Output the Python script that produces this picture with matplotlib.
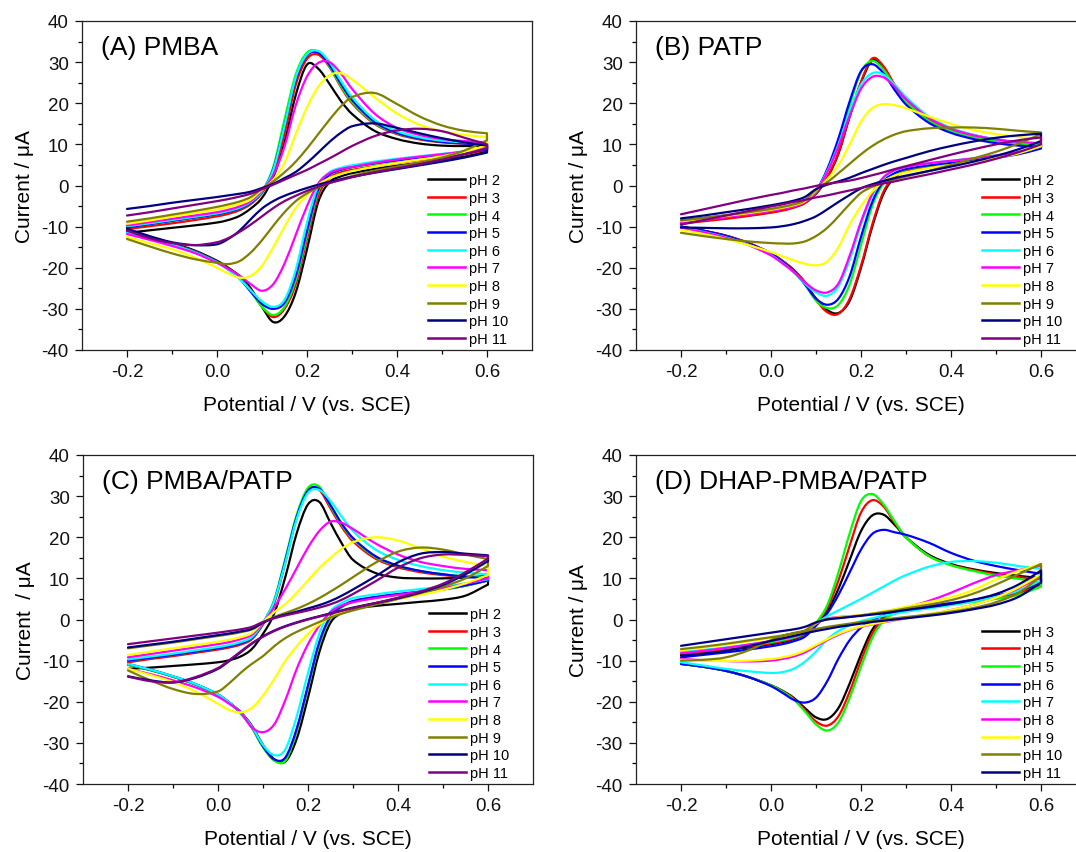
import numpy as np
import matplotlib
matplotlib.use("Agg")
import matplotlib.pyplot as plt
from matplotlib.path import Path
from matplotlib.patches import PathPatch
from matplotlib.lines import Line2D
from matplotlib.ticker import FixedLocator, FormatStrFormatter

plt.rcParams["font.family"] = ["Liberation Sans", "DejaVu Sans"]
plt.rcParams["axes.unicode_minus"] = False

# Potential grid (V vs. SCE) shared by every sweep
potential = [-0.2, -0.15, -0.1, -0.05, 0.0, 0.025, 0.05, 0.075, 0.1, 0.125, 0.15,
             0.175, 0.2, 0.225, 0.25, 0.275, 0.3, 0.35, 0.4, 0.45, 0.5, 0.55, 0.6]

labels_2_11 = ["pH 2", "pH 3", "pH 4", "pH 5", "pH 6", "pH 7", "pH 8", "pH 9", "pH 10", "pH 11"]
labels_3_11 = ["pH 3", "pH 4", "pH 5", "pH 6", "pH 7", "pH 8", "pH 9", "pH 10", "pH 11"]
colors_10 = ["#000000", "#ff0000", "#00ff00", "#0000ff", "#00ffff", "#ff00ff",
             "#ffff00", "#808000", "#000080", "#800080"]
colors_9 = colors_10[:9]

# ---------------- (A) PMBA: current (uA), forward (anodic) sweep ----------------
pmba_fwd = [
    [-11.5, -10.9, -10.3, -9.7, -9.0, -8.4, -7.4, -5.6, -3.0, 2.0, 10.5, 22.0, 29.4, 28.4, 24.7, 20.6, 17.4, 13.3, 11.3, 10.2, 9.7, 9.6, 9.7],
    [-10.6, -9.9, -9.2, -8.4, -7.5, -6.9, -6.0, -4.5, -1.8, 3.2, 12.5, 24.5, 30.8, 31.8, 28.8, 24.0, 20.0, 15.0, 12.5, 11.2, 10.5, 10.2, 10.1],
    [-10.2, -9.4, -8.6, -7.8, -7.0, -6.4, -5.6, -4.2, -1.5, 4.5, 16.0, 27.0, 32.3, 32.5, 29.0, 24.3, 20.3, 15.2, 12.7, 11.4, 10.7, 10.3, 10.2],
    [-10.2, -9.4, -8.6, -7.8, -7.0, -6.4, -5.6, -4.2, -1.5, 4.0, 14.5, 25.8, 31.6, 32.3, 29.3, 24.8, 20.8, 15.5, 12.8, 11.4, 10.6, 10.2, 10.0],
    [-9.9, -9.2, -8.4, -7.6, -6.8, -6.2, -5.4, -4.0, -1.4, 3.8, 14.5, 26.3, 31.9, 32.7, 30.0, 25.5, 21.5, 16.0, 13.2, 11.7, 10.9, 10.5, 10.3],
    [-9.7, -8.9, -8.1, -7.3, -6.5, -5.9, -5.1, -3.8, -1.2, 2.5, 9.5, 19.5, 26.5, 29.8, 30.0, 27.3, 23.5, 17.5, 14.0, 12.3, 11.3, 10.8, 10.5],
    [-9.3, -8.5, -7.6, -6.7, -5.8, -5.2, -4.5, -3.4, -1.0, 1.4, 5.5, 12.5, 19.0, 24.0, 26.8, 27.3, 25.8, 21.5, 17.5, 14.8, 13.2, 12.3, 11.8],
    [-8.8, -8.0, -7.1, -6.2, -5.2, -4.6, -3.9, -2.8, -0.8, 1.0, 3.2, 5.8, 9.0, 12.5, 16.0, 19.2, 21.5, 22.5, 19.8, 16.8, 14.6, 13.3, 12.7],
    [-5.7, -5.0, -4.2, -3.5, -2.8, -2.4, -2.0, -1.5, -0.6, 0.4, 1.8, 3.3, 5.5, 8.0, 10.6, 12.8, 14.4, 15.1, 14.0, 12.7, 11.5, 10.5, 9.7],
    [-7.3, -6.5, -5.6, -4.7, -3.8, -3.3, -2.7, -2.0, -0.9, 0.2, 1.4, 2.6, 3.8, 5.2, 6.6, 8.1, 9.6, 12.0, 13.4, 13.8, 13.2, 11.6, 10.0],
]
# (A) PMBA: reverse (cathodic) sweep, same potential grid
pmba_rev = [
    [-10.8, -12.5, -14.0, -15.8, -18.3, -20.0, -22.0, -25.0, -29.5, -33.2, -31.8, -26.0, -15.5, -4.0, 0.8, 2.2, 3.0, 4.0, 4.8, 5.5, 6.2, 7.0, 8.3],
    [-11.0, -12.7, -14.2, -16.0, -18.5, -20.2, -22.3, -25.5, -29.5, -32.0, -30.0, -24.0, -13.0, -2.5, 1.8, 3.2, 3.8, 4.7, 5.5, 6.2, 6.9, 7.6, 8.7],
    [-11.3, -12.8, -14.3, -16.1, -18.6, -20.4, -22.6, -25.8, -29.5, -31.5, -29.5, -23.0, -12.0, -1.5, 2.6, 3.8, 4.4, 5.3, 6.1, 6.8, 7.4, 8.0, 9.0],
    [-11.3, -12.8, -14.3, -16.1, -18.6, -20.4, -22.6, -25.8, -28.8, -30.0, -28.5, -22.0, -11.0, -1.0, 2.6, 3.8, 4.5, 5.4, 6.1, 6.8, 7.3, 7.9, 8.8],
    [-11.5, -12.9, -14.4, -16.2, -18.7, -20.5, -22.7, -25.5, -28.2, -29.5, -27.8, -20.5, -9.0, 0.0, 3.2, 4.3, 4.9, 5.8, 6.5, 7.1, 7.7, 8.3, 9.2],
    [-11.8, -13.2, -14.7, -16.4, -18.8, -20.3, -21.9, -24.0, -25.6, -24.0, -19.0, -12.0, -5.0, 0.5, 3.0, 4.0, 4.5, 5.5, 6.3, 7.0, 7.6, 8.3, 9.3],
    [-12.5, -14.0, -15.5, -17.5, -20.0, -21.4, -22.4, -22.0, -19.5, -15.0, -10.0, -5.5, -2.3, 0.2, 1.8, 2.8, 3.5, 4.6, 5.5, 6.3, 7.1, 8.2, 9.8],
    [-13.0, -14.8, -16.5, -17.9, -18.8, -19.1, -18.4, -16.3, -13.3, -9.8, -6.5, -3.8, -1.9, -0.5, 0.6, 1.5, 2.3, 3.6, 4.6, 5.6, 6.8, 8.5, 11.0],
    [-10.5, -12.3, -13.8, -14.5, -14.3, -13.0, -11.0, -8.2, -5.6, -3.8, -2.5, -1.5, -0.6, 0.2, 0.9, 1.5, 2.1, 3.1, 4.0, 4.9, 5.8, 6.8, 8.0],
    [-11.0, -12.8, -14.0, -14.5, -13.8, -12.8, -11.3, -9.5, -7.5, -5.5, -3.8, -2.5, -1.3, -0.3, 0.6, 1.3, 2.0, 3.2, 4.2, 5.2, 6.3, 7.6, 9.0],
]

# ---------------- (B) PATP ----------------
patp_fwd = [
    [-9.0, -8.5, -7.9, -7.3, -6.5, -6.0, -5.3, -4.2, -2.0, 1.8, 7.8, 16.8, 25.0, 30.4, 28.6, 24.2, 20.8, 16.1, 13.6, 12.1, 11.0, 10.2, 9.9],
    [-9.3, -8.7, -8.1, -7.4, -6.6, -6.1, -5.4, -4.3, -2.0, 2.0, 8.0, 17.0, 25.2, 30.9, 29.0, 24.5, 21.0, 16.3, 13.8, 12.3, 11.2, 10.4, 10.0],
    [-8.7, -8.1, -7.5, -6.8, -6.0, -5.5, -4.9, -3.9, -1.5, 3.5, 10.5, 19.5, 27.6, 30.3, 28.2, 24.0, 20.5, 15.8, 13.3, 11.8, 10.8, 10.1, 9.8],
    [-8.5, -7.9, -7.3, -6.6, -5.8, -5.3, -4.7, -3.7, -1.3, 4.0, 11.5, 20.5, 27.8, 29.5, 27.3, 23.2, 19.7, 15.3, 12.8, 11.3, 10.3, 9.7, 9.4],
    [-8.9, -8.3, -7.6, -6.9, -6.1, -5.6, -5.0, -3.9, -1.4, 3.5, 10.0, 18.0, 24.5, 27.3, 27.0, 24.5, 21.5, 16.8, 14.0, 12.3, 11.2, 10.5, 10.2],
    [-9.0, -8.4, -7.7, -7.0, -6.2, -5.7, -5.1, -4.0, -1.4, 3.2, 9.5, 17.0, 23.5, 26.4, 26.3, 24.0, 21.0, 16.5, 13.8, 12.2, 11.2, 10.6, 10.3],
    [-8.7, -8.1, -7.4, -6.7, -5.9, -5.4, -4.8, -3.8, -1.2, 1.5, 5.0, 10.0, 15.5, 18.8, 19.8, 19.5, 18.8, 16.8, 15.0, 13.5, 12.5, 11.8, 11.3],
    [-8.5, -7.9, -7.2, -6.5, -5.7, -5.2, -4.6, -3.6, -1.0, 0.8, 3.0, 5.3, 7.6, 9.6, 11.2, 12.4, 13.2, 13.9, 14.1, 14.1, 13.8, 13.3, 12.9],
    [-8.0, -7.3, -6.5, -5.7, -4.8, -4.3, -3.7, -2.8, -0.9, 0.2, 1.0, 1.9, 3.0, 4.0, 5.0, 5.9, 6.7, 8.3, 9.6, 10.7, 11.6, 12.2, 12.6],
    [-7.0, -5.8, -4.6, -3.4, -2.3, -1.8, -1.2, -0.7, -0.1, 0.4, 0.8, 1.2, 1.8, 2.5, 3.2, 4.0, 4.7, 6.1, 7.5, 8.8, 10.0, 11.0, 11.7],
]
patp_rev = [
    [-10.0, -11.0, -12.2, -14.0, -16.5, -18.3, -20.5, -23.5, -27.5, -30.3, -31.0, -28.0, -20.0, -10.0, -2.0, 2.0, 3.5, 4.5, 5.2, 6.0, 6.9, 7.9, 9.4],
    [-10.0, -11.0, -12.2, -14.0, -16.5, -18.3, -20.5, -23.5, -27.8, -30.8, -31.2, -27.5, -19.5, -9.5, -1.5, 2.2, 3.6, 4.6, 5.3, 6.1, 7.0, 8.0, 9.5],
    [-10.2, -11.2, -12.4, -14.2, -16.7, -18.6, -20.9, -24.0, -28.0, -29.8, -29.0, -24.0, -14.5, -5.0, 0.5, 2.8, 3.9, 4.8, 5.5, 6.2, 7.0, 7.9, 9.3],
    [-10.0, -11.0, -12.3, -14.1, -16.6, -18.5, -20.8, -24.0, -27.5, -29.0, -27.5, -22.0, -12.5, -4.0, 1.0, 3.0, 4.0, 4.9, 5.5, 6.1, 6.8, 7.6, 9.0],
    [-10.2, -11.3, -12.6, -14.4, -16.9, -18.8, -21.0, -23.8, -26.0, -26.8, -24.5, -18.0, -9.5, -2.5, 1.8, 3.6, 4.5, 5.4, 6.0, 6.6, 7.3, 8.1, 9.5],
    [-10.3, -11.4, -12.7, -14.5, -17.0, -18.9, -21.0, -23.5, -25.5, -26.0, -23.8, -17.0, -8.8, -2.0, 2.0, 3.7, 4.5, 5.4, 6.0, 6.6, 7.3, 8.1, 9.5],
    [-10.8, -11.8, -13.0, -14.5, -16.2, -17.2, -18.2, -19.0, -19.4, -18.5, -15.0, -9.5, -5.0, -1.5, 1.0, 2.4, 3.2, 4.2, 5.0, 5.8, 6.7, 7.8, 9.6],
    [-11.5, -12.3, -13.0, -13.6, -14.0, -14.1, -14.1, -13.6, -12.3, -10.3, -7.5, -4.5, -1.8, -0.3, 0.7, 1.5, 2.2, 3.5, 5.0, 6.6, 8.2, 10.2, 12.5],
    [-10.2, -10.3, -10.4, -10.4, -10.2, -9.9, -9.4, -8.6, -7.5, -5.8, -4.0, -2.3, -0.7, 0.3, 1.1, 1.8, 2.4, 3.5, 4.6, 5.8, 7.2, 8.8, 10.8],
    [-9.5, -8.4, -7.3, -6.2, -5.1, -4.6, -4.0, -3.5, -2.9, -2.4, -1.8, -1.2, -0.6, 0.0, 0.5, 1.0, 1.6, 2.7, 3.9, 5.1, 6.5, 8.1, 10.0],
]

# ---------------- (C) PMBA/PATP ----------------
mixed_fwd = [
    [-12.0, -11.7, -11.3, -10.9, -10.4, -9.9, -9.0, -7.2, -3.5, 1.5, 10.5, 21.0, 28.0, 28.6, 23.5, 18.5, 14.5, 11.3, 10.2, 10.0, 10.0, 10.2, 10.6],
    [-10.4, -9.6, -8.9, -8.1, -7.3, -6.8, -6.1, -4.8, -1.2, 4.0, 14.0, 24.8, 31.5, 31.5, 27.0, 22.5, 19.0, 14.8, 12.7, 11.5, 10.8, 10.4, 10.3],
    [-10.0, -9.3, -8.6, -7.8, -7.0, -6.5, -5.8, -4.5, -0.8, 4.8, 15.0, 25.5, 32.0, 32.3, 27.5, 23.0, 19.5, 15.2, 13.0, 11.8, 11.0, 10.5, 10.2],
    [-10.0, -9.3, -8.6, -7.8, -7.0, -6.5, -5.8, -4.5, -0.9, 4.5, 14.5, 25.0, 31.3, 31.8, 27.8, 23.3, 19.8, 15.4, 13.1, 11.8, 11.0, 10.4, 10.0],
    [-9.7, -9.0, -8.3, -7.5, -6.7, -6.2, -5.5, -4.3, -0.8, 4.5, 14.0, 24.5, 30.8, 31.5, 28.8, 25.0, 21.5, 17.0, 14.5, 13.0, 12.0, 11.4, 11.0],
    [-9.2, -8.4, -7.6, -6.8, -6.0, -5.5, -4.8, -3.7, -0.8, 3.0, 7.5, 12.5, 17.5, 21.5, 23.8, 23.5, 22.0, 18.5, 15.8, 14.0, 13.0, 12.3, 12.0],
    [-8.6, -7.8, -7.0, -6.2, -5.4, -4.9, -4.3, -3.3, -0.6, 1.8, 3.8, 6.5, 9.5, 12.5, 15.0, 17.2, 18.8, 20.0, 19.2, 17.3, 15.3, 14.0, 13.0],
    [-7.0, -6.3, -5.6, -4.8, -4.0, -3.6, -3.1, -2.4, -0.8, 0.6, 1.6, 2.6, 3.8, 5.2, 6.8, 8.5, 10.3, 13.8, 16.5, 17.5, 17.0, 15.8, 14.7],
    [-6.8, -6.1, -5.4, -4.6, -3.8, -3.4, -2.9, -2.3, -0.8, 0.4, 1.2, 1.9, 2.7, 3.5, 4.5, 5.8, 7.3, 10.5, 13.9, 16.0, 16.4, 16.0, 15.6],
    [-6.0, -5.3, -4.6, -3.9, -3.2, -2.8, -2.4, -1.8, -0.6, 0.3, 1.0, 1.6, 2.2, 2.9, 3.7, 4.8, 6.2, 9.3, 12.6, 14.9, 15.8, 15.7, 15.4],
]
mixed_rev = [
    [-11.0, -12.3, -13.9, -15.8, -18.3, -20.2, -22.5, -25.8, -30.5, -34.0, -34.5, -29.0, -19.0, -8.0, -0.8, 1.6, 2.6, 3.3, 3.8, 4.3, 4.8, 5.8, 8.5],
    [-11.0, -12.3, -13.9, -15.8, -18.3, -20.3, -22.8, -26.3, -31.0, -34.2, -34.0, -27.0, -16.5, -6.0, 0.5, 3.0, 4.3, 5.3, 6.0, 6.6, 7.3, 8.2, 9.5],
    [-11.0, -12.3, -13.9, -15.8, -18.3, -20.3, -22.8, -26.3, -31.0, -34.3, -34.3, -27.0, -16.5, -6.0, 0.5, 3.0, 4.3, 5.3, 6.0, 6.6, 7.3, 8.2, 9.5],
    [-10.8, -12.2, -13.8, -15.7, -18.2, -20.2, -22.6, -26.0, -30.8, -34.0, -33.5, -26.5, -16.0, -5.5, 0.8, 3.2, 4.5, 5.5, 6.2, 6.8, 7.4, 8.3, 9.5],
    [-10.8, -12.2, -13.8, -15.7, -18.2, -20.2, -22.6, -26.0, -30.5, -33.0, -31.5, -23.5, -13.0, -3.5, 2.0, 4.0, 5.2, 6.1, 6.8, 7.4, 8.0, 8.8, 9.8],
    [-12.0, -13.3, -14.8, -16.5, -18.8, -20.5, -22.5, -26.2, -27.4, -25.5, -19.5, -12.0, -6.0, -1.5, 1.8, 3.4, 4.2, 5.2, 6.0, 6.8, 7.6, 8.7, 10.0],
    [-12.0, -13.5, -15.2, -17.5, -20.5, -22.0, -22.6, -21.5, -18.5, -14.5, -10.0, -6.5, -3.5, -1.2, 0.6, 1.8, 2.8, 4.0, 5.0, 6.0, 7.2, 8.8, 10.8],
    [-12.4, -14.8, -16.9, -18.1, -17.5, -15.5, -13.0, -10.8, -8.9, -6.5, -4.5, -3.0, -1.8, -0.6, 0.5, 1.4, 2.2, 3.6, 5.0, 6.4, 8.0, 10.0, 13.0],
    [-13.8, -14.8, -15.3, -14.2, -12.0, -10.1, -8.0, -5.9, -4.1, -2.7, -1.6, -0.7, 0.1, 0.8, 1.5, 2.2, 2.9, 4.0, 5.2, 6.6, 8.4, 11.0, 14.2],
    [-13.9, -15.0, -15.3, -14.0, -11.8, -9.9, -7.8, -5.8, -4.2, -2.8, -1.7, -0.8, 0.0, 0.7, 1.4, 2.1, 2.8, 4.0, 5.3, 6.8, 8.7, 11.5, 14.8],
]

# ---------------- (D) DHAP-PMBA/PATP ----------------
dhap_fwd = [
    [-8.5, -8.0, -7.4, -6.8, -6.0, -5.5, -4.8, -3.6, -1.2, 2.0, 7.5, 14.5, 21.5, 25.3, 25.5, 23.0, 20.0, 15.8, 13.5, 12.2, 11.3, 10.6, 10.1],
    [-8.3, -7.8, -7.2, -6.6, -5.8, -5.3, -4.6, -3.5, -1.0, 2.8, 9.5, 18.0, 26.0, 29.0, 27.5, 23.5, 20.0, 15.5, 13.3, 12.0, 11.0, 10.3, 9.8],
    [-8.0, -7.5, -6.9, -6.3, -5.5, -5.0, -4.4, -3.3, -0.8, 3.5, 11.5, 21.0, 28.8, 30.5, 28.0, 23.8, 20.0, 15.5, 13.2, 11.8, 10.7, 9.9, 9.0],
    [-9.2, -8.6, -8.0, -7.3, -6.5, -6.0, -5.3, -4.2, -1.5, 1.5, 6.0, 11.5, 17.0, 20.8, 21.8, 21.2, 20.6, 18.7, 16.2, 14.3, 13.0, 12.0, 11.1],
    [-8.0, -7.4, -6.8, -6.1, -5.3, -4.8, -4.2, -3.2, -1.0, 0.8, 2.2, 3.6, 5.0, 6.5, 8.0, 9.5, 10.8, 12.8, 14.0, 14.2, 13.8, 13.0, 12.3],
    [-8.2, -7.6, -6.9, -6.1, -5.2, -4.7, -4.1, -3.2, -1.0, 0.2, 0.6, 0.8, 1.0, 1.4, 1.9, 2.4, 2.9, 4.5, 6.5, 8.8, 10.8, 12.0, 13.1],
    [-7.5, -6.8, -6.1, -5.3, -4.5, -4.1, -3.6, -2.8, -0.9, 0.1, 0.5, 0.8, 1.1, 1.5, 2.0, 2.5, 3.1, 4.2, 5.4, 7.2, 9.7, 11.8, 13.5],
    [-7.2, -6.6, -5.9, -5.1, -4.3, -3.9, -3.4, -2.7, -0.8, 0.1, 0.4, 0.7, 1.0, 1.4, 1.8, 2.2, 2.7, 3.6, 4.7, 6.3, 8.5, 11.0, 13.5],
    [-6.4, -5.6, -4.8, -4.0, -3.2, -2.8, -2.4, -1.8, -0.7, 0.0, 0.3, 0.6, 0.9, 1.2, 1.5, 1.9, 2.3, 3.0, 3.8, 4.8, 6.2, 8.5, 11.9],
]
dhap_rev = [
    [-10.8, -11.5, -12.5, -14.0, -16.0, -17.3, -19.0, -21.5, -23.8, -24.2, -21.5, -15.5, -8.5, -2.5, 0.5, 1.8, 2.5, 3.2, 3.8, 4.5, 5.3, 6.5, 8.5],
    [-10.8, -11.5, -12.5, -14.0, -16.0, -17.4, -19.2, -22.0, -24.8, -25.8, -23.5, -17.5, -10.0, -3.5, 0.2, 1.7, 2.5, 3.2, 3.8, 4.5, 5.3, 6.5, 8.5],
    [-10.8, -11.5, -12.5, -14.0, -16.0, -17.5, -19.4, -22.3, -25.5, -27.0, -25.0, -19.0, -11.5, -4.5, -0.3, 1.5, 2.3, 3.0, 3.6, 4.3, 5.0, 6.0, 8.0],
    [-10.8, -11.5, -12.5, -14.0, -16.2, -17.8, -19.5, -20.2, -19.0, -15.0, -9.5, -5.0, -2.0, -0.2, 1.0, 1.8, 2.5, 3.3, 4.0, 4.8, 5.8, 7.0, 9.0],
    [-10.4, -11.2, -12.0, -12.6, -13.0, -12.8, -12.0, -10.3, -7.8, -4.8, -2.8, -1.4, -0.4, 0.3, 0.9, 1.4, 1.9, 2.7, 3.5, 4.4, 5.5, 7.0, 9.5],
    [-9.6, -9.9, -10.1, -10.2, -10.0, -9.6, -9.0, -8.0, -6.5, -5.0, -3.7, -2.6, -1.8, -1.2, -0.7, -0.2, 0.3, 1.2, 2.3, 3.6, 5.3, 7.6, 10.5],
    [-9.8, -10.0, -10.1, -10.0, -9.6, -9.2, -8.6, -7.6, -6.2, -4.8, -3.5, -2.5, -1.7, -1.1, -0.6, -0.1, 0.4, 1.3, 2.3, 3.6, 5.3, 7.8, 11.0],
    [-10.0, -9.8, -9.2, -7.5, -5.0, -4.0, -3.3, -2.8, -2.3, -1.8, -1.4, -1.0, -0.6, -0.3, 0.0, 0.3, 0.6, 1.2, 1.9, 2.8, 4.2, 6.5, 10.5],
    [-8.8, -8.3, -7.6, -6.5, -5.2, -4.6, -4.0, -3.4, -2.8, -2.3, -1.8, -1.4, -1.0, -0.6, -0.3, 0.0, 0.3, 0.9, 1.6, 2.5, 3.6, 5.5, 9.0],
]


def hermite_segments(x, y, first_code):
    """Cubic Bezier path pieces for a smooth curve through (x, y)."""
    x = np.asarray(x, float)
    y = np.asarray(y, float)
    n = len(x)
    m = np.empty(n)
    m[0] = (y[1] - y[0]) / (x[1] - x[0])
    m[-1] = (y[-1] - y[-2]) / (x[-1] - x[-2])
    m[1:-1] = (y[2:] - y[:-2]) / (x[2:] - x[:-2])
    verts = [(x[0], y[0])]
    codes = [first_code]
    for i in range(n - 1):
        h = x[i + 1] - x[i]
        verts += [(x[i] + h / 3, y[i] + m[i] * h / 3),
                  (x[i + 1] - h / 3, y[i + 1] - m[i + 1] * h / 3),
                  (x[i + 1], y[i + 1])]
        codes += [Path.CURVE4] * 3
    return verts, codes


def draw_cv(ax, e, fwd, rev, color):
    v1, c1 = hermite_segments(e, fwd, Path.MOVETO)
    v2, c2 = hermite_segments(e[::-1], rev[::-1], Path.LINETO)
    path = Path(v1 + v2, c1 + c2)
    ax.add_patch(PathPatch(path, fill=False, edgecolor=color, lw=1.6,
                           joinstyle="round", capstyle="round"))


fig = plt.figure(figsize=(10.76, 8.53), dpi=100)
W, H = 1076.0, 853.0
panels = [
    ("(A) PMBA", pmba_fwd, pmba_rev, labels_2_11, colors_10, (82, 351), "Current / \u03bcA"),
    ("(B) PATP", patp_fwd, patp_rev, labels_2_11, colors_10, (636, 351), "Current / \u03bcA"),
    ("(C) PMBA/PATP", mixed_fwd, mixed_rev, labels_2_11, colors_10, (83, 785), "Current  / \u03bcA"),
    ("(D) DHAP-PMBA/PATP", dhap_fwd, dhap_rev, labels_3_11, colors_9, (636, 785), "Current / \u03bcA"),
]

e = np.array(potential)
for title, fwd_set, rev_set, labels, colors, (px, py), ylab in panels:
    ax = fig.add_axes([px / W, 1 - py / H, 450 / W, 329 / H])
    for fwd, rev, col in zip(fwd_set, rev_set, colors):
        draw_cv(ax, e, np.array(fwd), np.array(rev), col)
    ax.set_xlim(-0.3, 0.7)
    ax.set_ylim(-40, 40)
    ax.xaxis.set_major_locator(FixedLocator([-0.2, 0.0, 0.2, 0.4, 0.6]))
    ax.xaxis.set_minor_locator(FixedLocator([-0.1, 0.1, 0.3, 0.5]))
    ax.xaxis.set_major_formatter(FormatStrFormatter("%.1f"))
    ax.yaxis.set_major_locator(FixedLocator(np.arange(-40, 41, 10)))
    ax.yaxis.set_minor_locator(FixedLocator(np.arange(-35, 40, 10)))
    ax.tick_params(which="major", direction="out", length=5, width=0.9,
                   labelsize=13.5, pad=4.5, colors="#111111")
    ax.tick_params(which="minor", direction="out", length=3, width=0.9)
    for s in ax.spines.values():
        s.set_linewidth(0.9)
        s.set_color("#222222")
    ax.set_xlabel("Potential / V (vs. SCE)", fontsize=15)
    ax.set_ylabel(ylab, fontsize=15)
    ax.xaxis.set_label_coords(0.5, -0.138)
    ax.yaxis.set_label_coords(-0.106, 0.5)
    ax.text(0.042, 0.9, title, transform=ax.transAxes, fontsize=19,
            ha="left", va="baseline")
    handles = [Line2D([], [], color=c, lw=1.8) for c in colors]
    ax.legend(handles, labels, loc="lower left", bbox_to_anchor=(0.768, 0.012),
              frameon=False, fontsize=10.5, handlelength=2.55, handletextpad=0.3,
              labelspacing=0.25, borderpad=0, borderaxespad=0)

fig.savefig("out.png", dpi=100, facecolor="white")
